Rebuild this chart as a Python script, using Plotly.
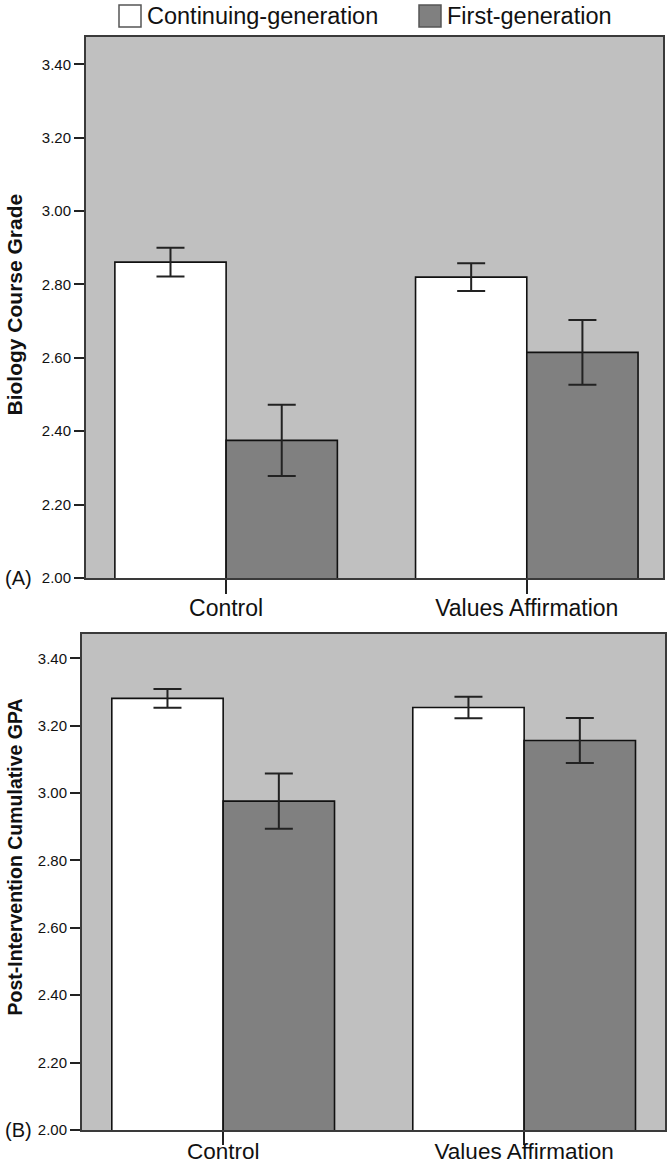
import plotly.graph_objects as go

categories = ["Control", "Values Affirmation"]
series_names = ["Continuing-generation", "First-generation"]
series_colors = ["#ffffff", "#808080"]

# Panel A: Biology course grade
grade_cont = [2.861, 2.820]
grade_cont_err = [0.039, 0.038]
grade_first = [2.375, 2.615]
grade_first_err = [0.097, 0.088]

# Panel B: Post-intervention cumulative GPA
gpa_cont = [3.281, 3.254]
gpa_cont_err = [0.028, 0.032]
gpa_first = [2.976, 3.156]
gpa_first_err = [0.082, 0.067]

y_ticks = [2.0, 2.2, 2.4, 2.6, 2.8, 3.0, 3.2, 3.4]
y_titles = ["Biology Course Grade", "Post-Intervention Cumulative GPA"]
panel_labels = ["(A)", "(B)"]

W, H = 670, 1165
FONT = "Liberation Sans, Arial, sans-serif"

fig = go.Figure()

panels = [
    (grade_cont, grade_cont_err, grade_first, grade_first_err, "x", "y"),
    (gpa_cont, gpa_cont_err, gpa_first, gpa_first_err, "x2", "y2"),
]
for cont, cerr, first, ferr, xa, ya in panels:
    for vals, errs, name, col in [(cont, cerr, series_names[0], series_colors[0]),
                                  (first, ferr, series_names[1], series_colors[1])]:
        fig.add_trace(go.Bar(
            x=categories, y=vals, name=name, showlegend=False,
            xaxis=xa, yaxis=ya,
            marker=dict(color=col, line=dict(color="#111111", width=1.6)),
            error_y=dict(type="data", array=errs, visible=True,
                         color="#222222", thickness=2, width=14),
        ))

def px_x(p):
    return p / W

def px_y(p):
    return 1 - p / H

axis_common = dict(showline=True, mirror=True, linecolor="#3a3a3a", linewidth=2,
                   showgrid=False, zeroline=False, automargin=False)

xcat = dict(type="category", ticks="outside", tickwidth=2, tickcolor="#222222")
ynum = dict(tickvals=y_ticks, tickformat=".2f", ticks="outside", ticklen=10,
            tickwidth=2, tickcolor="#222222", tickfont=dict(size=15, family=FONT))

fig.update_layout(
    width=W, height=H,
    margin=dict(l=0, r=0, t=0, b=0),
    paper_bgcolor="white",
    barmode="group", bargap=0.26, bargroupgap=0,
    font=dict(family=FONT, color="#111111"),
    xaxis=dict(domain=[px_x(86), px_x(663)], anchor="y", range=[-0.466, 1.453],
               ticklen=14, ticklabelstandoff=-6, tickfont=dict(size=23, family=FONT),
               **xcat, **axis_common),
    yaxis=dict(domain=[px_y(578), px_y(37)], anchor="x", range=[2.0, 3.4745],
               **ynum, **axis_common),
    xaxis2=dict(domain=[px_x(82), px_x(665)], anchor="y2", range=[-0.469, 1.468],
                ticklen=13, ticklabelstandoff=-13, tickfont=dict(size=22.5, family=FONT),
                **xcat, **axis_common),
    yaxis2=dict(domain=[px_y(1130), px_y(634)], anchor="x2", range=[2.0, 3.472],
                **ynum, **axis_common),
    plot_bgcolor="#c0c0c0",
)

# Axis titles and panel labels
for title, yc, fs in zip(y_titles, [305, 857], [21, 19.5]):
    fig.add_annotation(text="<b>%s</b>" % title, xref="paper", yref="paper",
                       x=px_x(14.5), y=px_y(yc), textangle=-90, showarrow=False,
                       font=dict(size=fs, family=FONT, color="#111111"),
                       xanchor="center", yanchor="middle")
for lab, yc in zip(panel_labels, [578, 1130]):
    fig.add_annotation(text=lab, xref="paper", yref="paper",
                       x=px_x(3), y=px_y(yc), showarrow=False,
                       font=dict(size=20, family=FONT, color="#111111"),
                       xanchor="left", yanchor="middle")

# Legend (manual, to match the large square swatches)
legend_items = [(119, series_colors[0], series_names[0]),
                (419, series_colors[1], series_names[1])]
for x0, col, name in legend_items:
    fig.add_shape(type="rect", xref="paper", yref="paper",
                  x0=px_x(x0), x1=px_x(x0 + 22), y0=px_y(27), y1=px_y(5),
                  fillcolor=col, line=dict(color="#555555", width=1.5))
    fig.add_annotation(text=name, xref="paper", yref="paper",
                       x=px_x(x0 + 26), y=px_y(16), showarrow=False,
                       xanchor="left", yanchor="middle",
                       font=dict(size=23.5, family=FONT, color="#111111"))

fig.write_html("out.html",
               config={"displayModeBar": False},
               post_script="document.body.style.margin='0';"
                           "document.body.style.padding='0';"
                           "document.body.style.overflow='hidden';")
